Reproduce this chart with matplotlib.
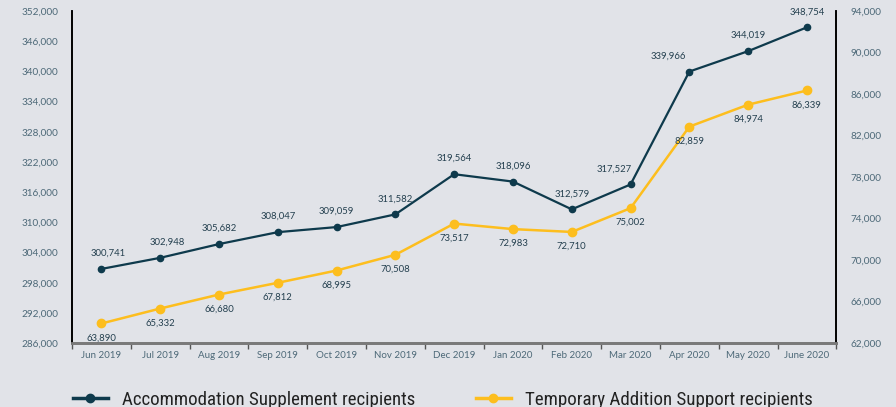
import matplotlib
matplotlib.use("Agg")
import matplotlib.pyplot as plt
from matplotlib.lines import Line2D
from matplotlib.ticker import FuncFormatter, FixedLocator, NullFormatter
from matplotlib import font_manager

months = ["Jun 2019", "Jul 2019", "Aug 2019", "Sep 2019", "Oct 2019", "Nov 2019",
          "Dec 2019", "Jan 2020", "Feb 2020", "Mar 2020", "Apr 2020", "May 2020", "June 2020"]
accommodation = [300741, 302948, 305682, 308047, 309059, 311582, 319564,
                 318096, 312579, 317527, 339966, 344019, 348754]
temporary = [63890, 65332, 66680, 67812, 68995, 70508, 73517,
             72983, 72710, 75002, 82859, 84974, 86339]
left_ticks = list(range(286000, 352001, 6000))
right_ticks = list(range(62000, 94001, 4000))

BG = "#E1E3E8"
DARK = "#0E3A4C"
YELLOW = "#FDBE1E"
TICKC = "#4D6978"
LABELC = "#24404F"

names = {f.name for f in font_manager.fontManager.ttflist}
legend_font = "DejaVu Sans"
for cand in ["Roboto Condensed", "Liberation Sans Narrow", "Open Sans Condensed", "Roboto"]:
    if cand in names:
        legend_font = cand
        break
base_font = "Lato" if "Lato" in names else "DejaVu Sans"
plt.rcParams["font.family"] = [base_font, "DejaVu Sans"]

fig = plt.figure(figsize=(8.96, 4.07), dpi=100, facecolor=BG)
ax = fig.add_axes([0.0804, 0.157, 0.853, 0.816], facecolor=BG)
ax2 = ax.twinx()

x = list(range(len(months)))
ax.plot(x, accommodation, color=DARK, lw=1.6, marker="o", ms=4.5, zorder=3)
ax2.plot(x, temporary, color=YELLOW, lw=1.8, marker="o", ms=6, zorder=3)

ax.set_xlim(-0.5, len(months) - 0.5)
ax.set_ylim(left_ticks[0], left_ticks[-1])
ax2.set_ylim(right_ticks[0], right_ticks[-1])
ax.set_yticks(left_ticks)
ax2.set_yticks(right_ticks)
fmt = FuncFormatter(lambda v, p: f"{int(v):,}")
ax.yaxis.set_major_formatter(fmt)
ax2.yaxis.set_major_formatter(fmt)

ax.set_xticks(x)
ax.set_xticklabels(months)
ax.xaxis.set_minor_locator(FixedLocator([i - 0.5 for i in range(len(months) + 1)]))
ax.xaxis.set_minor_formatter(NullFormatter())
ax.tick_params(axis="x", which="major", length=0, pad=6, labelsize=7, labelcolor=TICKC)
ax.tick_params(axis="x", which="minor", length=4, width=1, color="#555555")
ax.tick_params(axis="y", length=0, pad=10, labelsize=7.2, labelcolor=TICKC)
ax2.tick_params(axis="y", length=0, pad=10, labelsize=7.2, labelcolor=TICKC)

for a in (ax, ax2):
    a.spines["top"].set_visible(False)
    a.spines["left"].set_color("black")
    a.spines["right"].set_color("black")
    a.spines["left"].set_linewidth(1.2)
    a.spines["right"].set_linewidth(1.2)
    a.spines["bottom"].set_color("#7A7A7A")
    a.spines["bottom"].set_linewidth(2)

dark_dx = [5, 5, 0, 0, 0, 0, 0, 0, 0, -12, -15, 0, 0]
for i, v in enumerate(accommodation):
    ax.annotate(f"{v:,}", (i, v), xytext=(dark_dx[i], 8), textcoords="offset points",
                ha="center", va="bottom", fontsize=6.8, color=LABELC, zorder=4)
for i, v in enumerate(temporary):
    ax2.annotate(f"{v:,}", (i, v), xytext=(0, -7), textcoords="offset points",
                 ha="center", va="top", fontsize=6.8, color=LABELC, zorder=4)

handles = [
    Line2D([0], [0], color=DARK, lw=2.5, marker="o", ms=6,
           label="Accommodation Supplement recipients"),
    Line2D([0], [0], color=YELLOW, lw=2.5, marker="o", ms=6, markeredgecolor=YELLOW,
           label="Temporary Addition Support recipients"),
]
leg = fig.legend(handles=handles, loc="center", bbox_to_anchor=(0.494, 0.018), ncol=2,
                 frameon=False, handlelength=1.85, handletextpad=0.74, columnspacing=3.2,
                 prop={"family": legend_font, "size": 13.6})
for t in leg.get_texts():
    t.set_color("#222222")

fig.savefig("out.png", dpi=100, facecolor=BG)
